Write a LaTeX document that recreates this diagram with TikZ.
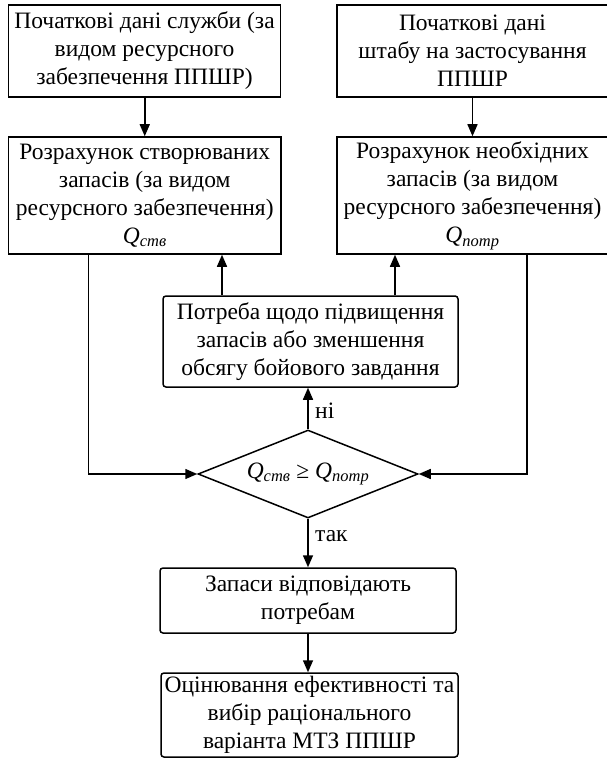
\documentclass[tikz,border=0pt]{standalone}
\usepackage{fontspec}
\setmainfont{Liberation Serif}
\usetikzlibrary{shapes.geometric,arrows.meta}
\begin{document}
\begin{tikzpicture}[x=1pt,y=-1pt,
  every node/.style={font=\fontsize{23.5}{28}\selectfont, align=center, inner sep=0pt},
  sqbox/.style={draw, line width=1.5pt, rectangle},
  rbox/.style={draw, line width=1.5pt, rectangle, rounded corners=3pt},
  arr/.style={line width=1.5pt, -{Triangle[length=12pt,width=10pt]}}]
\useasboundingbox (0,0) rectangle (606,767);
\newcommand{\Qs}{\textit{Q}\textsubscript{\textit{ств}}}
\newcommand{\Qp}{\textit{Q}\textsubscript{\textit{потр}}}

\node[sqbox, minimum width=272pt, minimum height=92pt] (A) at (144.5,51)
  {Початкові дані служби (за\\видом ресурсного\\забезпечення ППШР)};
\node[sqbox, minimum width=271pt, minimum height=92pt] (B) at (472.5,51)
  {Початкові дані\\штабу на застосування\\ППШР};
\node[sqbox, minimum width=272.5pt, minimum height=117pt] (C) at (144.75,195.5)
  {Розрахунок створюваних\\запасів (за видом\\ресурсного забезпечення)\\\Qs};
\node[sqbox, minimum width=271pt, minimum height=117pt] (D) at (472.5,195.5)
  {Розрахунок необхідних\\запасів (за видом\\ресурсного забезпечення)\\\Qp};
\node[rbox, minimum width=295pt, minimum height=91pt] (E) at (310.5,341.5)
  {Потреба щодо підвищення\\запасів або зменшення\\обсягу бойового завдання};
\node[draw, line width=1.5pt, diamond, aspect=2.5, minimum width=220pt, minimum height=88pt] (Q) at (308,474)
  {\Qs\ ≥ \Qp};
\node[rbox, minimum width=296pt, minimum height=65pt] (F) at (308,600.5)
  {Запаси відповідають\\потребам};
\node[rbox, minimum width=297pt, minimum height=84pt] (G) at (309.5,715)
  {Оцінювання ефективності та\\вибір раціонального\\варіанта МТЗ ППШР};

\coordinate (cl) at (88.7,0);
\coordinate (dr) at (527,0);
\coordinate (el) at (222,0);
\coordinate (er) at (395,0);
\coordinate (mid) at (308,0);

\draw[arr] (A.south -| C.north) -- (C.north);
\draw[arr] (B.south) -- (D.north);
\draw[arr] (cl |- C.south) |- (Q.west);
\draw[arr] (dr |- D.south) |- (Q.east);
\draw[arr] (Q.north) -- (Q.north |- E.south);
\draw[arr] (el |- E.north) -- (el |- C.south);
\draw[arr] (er |- E.north) -- (er |- D.south);
\draw[arr] (Q.south) -- (Q.south |- F.north);
\draw[arr] (mid |- F.south) -- (mid |- G.north);

\node[anchor=west] (ni) at (315,411) {ні};
\node[anchor=west] (tak) at (315,536) {так};
\end{tikzpicture}
\end{document}
